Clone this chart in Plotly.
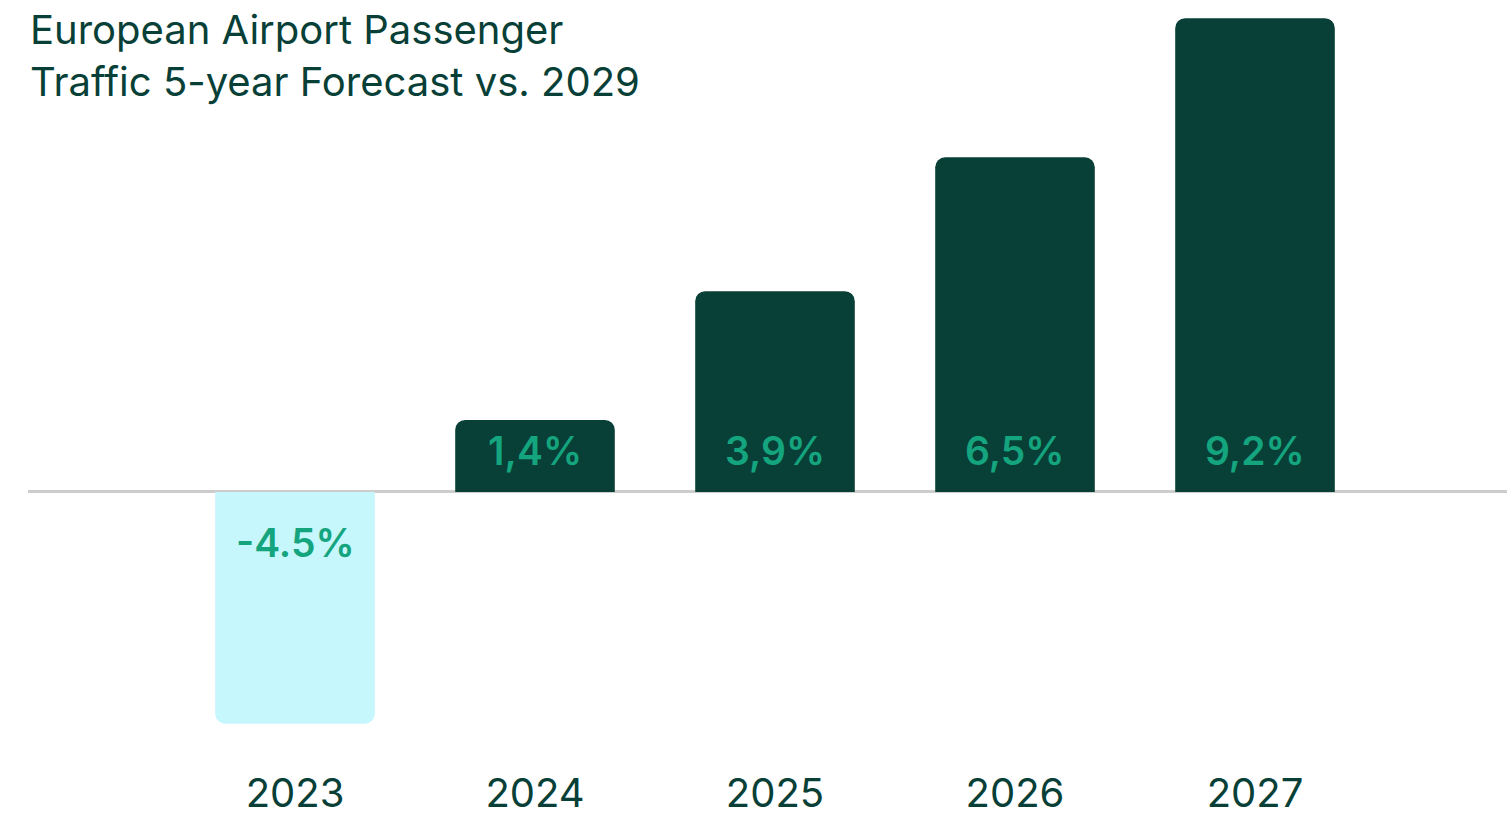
import plotly.graph_objects as go

# Forecast data
years = ["2023", "2024", "2025", "2026", "2027"]
growth = [-4.5, 1.4, 3.9, 6.5, 9.2]
value_labels = ["-4.5%", "1,4%", "3,9%", "6,5%", "9,2%"]
bar_colors = ["#c5f7fc", "#083f37", "#083f37", "#083f37", "#083f37"]

DARK = "#083f37"
TEAL = "#14a47e"
FONT = "Inter, Roboto, sans-serif"

fig = go.Figure(
    go.Bar(
        x=years,
        y=growth,
        marker=dict(color=bar_colors, line=dict(width=0)),
        width=0.665,
        hoverinfo="skip",
    )
)

# value labels placed just beside the zero line inside each bar
for i, (v, lab) in enumerate(zip(growth, value_labels)):
    fig.add_annotation(
        x=i, y=0, xref="x", yref="y",
        text=lab, showarrow=False,
        yanchor="middle",
        yshift=41 if v >= 0 else -51,
        font=dict(family=FONT, size=39, color=TEAL, weight=600),
    )

fig.add_annotation(
    text="European Airport Passenger<br>Traffic 5-year Forecast vs. 2029",
    xref="paper", yref="paper", x=0, y=1.0,
    xanchor="left", yanchor="top", align="left",
    showarrow=False, xshift=0, yshift=7,
    font=dict(family=FONT, size=40, color=DARK),
)

fig.update_layout(
    width=1507, height=817,
    margin=dict(l=28, r=0, t=10, b=57),
    paper_bgcolor="white", plot_bgcolor="white",
    barcornerradius=10,
    showlegend=False,
    xaxis=dict(
        type="category",
        range=[-1.1125, 5.05],
        showgrid=False, showline=False, zeroline=False,
        ticks="", tickfont=dict(family=FONT, size=40, color=DARK),
        ticklabelstandoff=6,
        automargin=False,
    ),
    yaxis=dict(
        range=[-5.204, 9.359],
        showgrid=False, showticklabels=False, ticks="",
        zeroline=True, zerolinecolor="#cccccc", zerolinewidth=2.5,
        automargin=False,
    ),
)

fig.write_html("out.html")
